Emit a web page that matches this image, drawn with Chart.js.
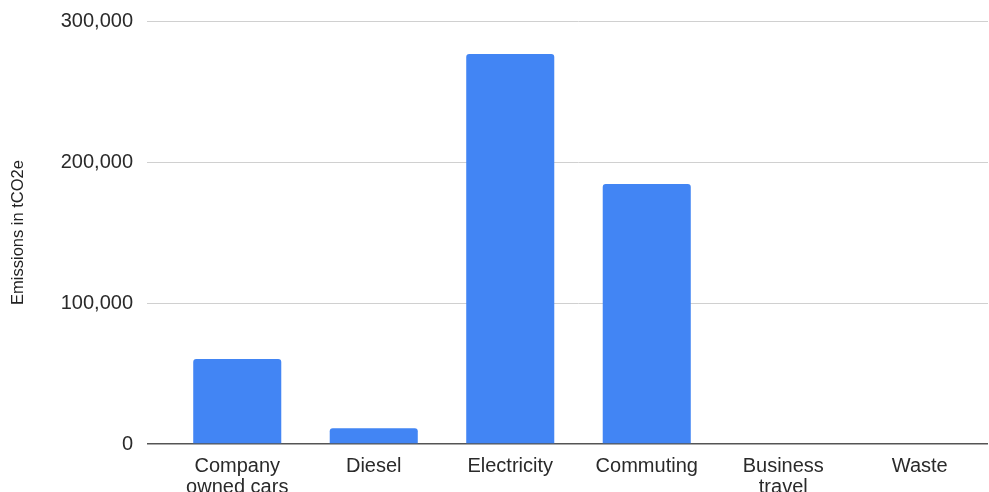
<!DOCTYPE html>
<html>
<head>
<meta charset="utf-8">
<script src="https://cdn.jsdelivr.net/npm/chart.js@4/dist/chart.umd.min.js"></script>
<style>
  html, body { margin: 0; padding: 0; background: #fff; }
  #wrap { position: relative; width: 989px; height: 492px; }
</style>
</head>
<body>
<div id="wrap"><canvas id="chart"></canvas></div>
<script>
  // 카테고리 / 값
  const categories = [['Company', 'owned cars'], 'Diesel', 'Electricity', 'Commuting', ['Business', 'travel'], 'Waste'];
  const emissions = [60300, 11100, 276600, 184400, 0, 0];
  const yTicks = [0, 100000, 200000, 300000];

  const FONT = '"Liberation Sans", Arial, sans-serif';

  new Chart(document.getElementById('chart'), {
    type: 'bar',
    data: {
      labels: categories,
      datasets: [{
        label: 'Emissions in tCO2e',
        data: emissions,
        backgroundColor: '#4285f4',
        borderRadius: { topLeft: 3, topRight: 3 },
        borderSkipped: 'bottom',
        barPercentage: 0.645,
        categoryPercentage: 1
      }]
    },
    options: {
      responsive: true,
      maintainAspectRatio: false,
      animation: false,
      layout: { padding: { top: 21, right: 1, bottom: 0, left: 0 } },
      plugins: { legend: { display: false }, tooltip: { enabled: false } },
      scales: {
        x: {
          grid: { display: false },
          border: { display: false },
          ticks: {
            color: '#2a2a2a',
            font: { family: FONT, size: 20, lineHeight: 1.05 },
            padding: 4,
            maxRotation: 0,
            autoSkip: false
          },
          afterFit: (s) => { s.height = 48; }
        },
        y: {
          min: 0,
          max: 300000,
          afterBuildTicks: (s) => { s.ticks = yTicks.map(v => ({ value: v })); },
          grid: {
            color: (c) => c.tick && c.tick.value === 0 ? '#555' : '#d0d0d0',
            lineWidth: (c) => c.tick && c.tick.value === 0 ? 1.5 : 1,
            drawTicks: true,
            tickLength: 22
          },
          border: { display: false },
          ticks: {
            color: '#2a2a2a',
            font: { family: FONT, size: 20 },
            padding: 14,
            callback: (v) => v.toLocaleString('en-US')
          },
          title: {
            display: true,
            text: 'Emissions in tCO2e',
            color: '#222',
            font: { family: FONT, size: 16.5 },
            padding: { top: 9, bottom: 0 }
          },
          afterFit: (s) => {
            s.width = 169;
            s.paddingTop = 0;
            s.paddingBottom = 0;
          }
        }
      }
    }
  });
</script>
</body>
</html>
